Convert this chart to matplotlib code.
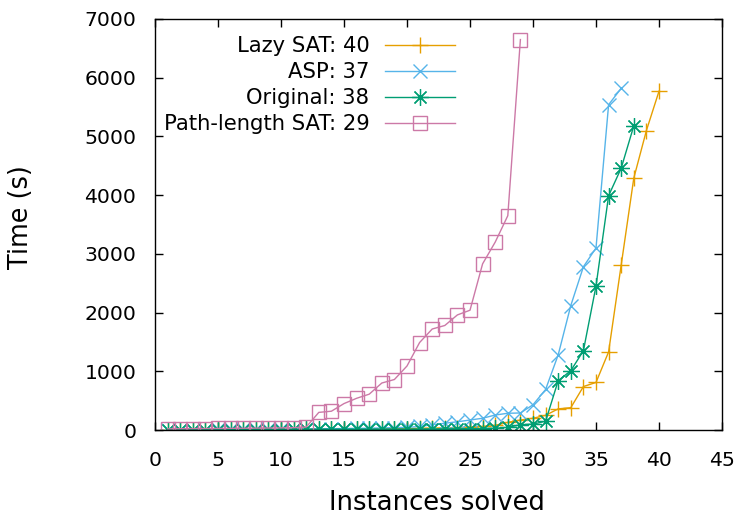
import matplotlib
matplotlib.use("Agg")
import matplotlib.pyplot as plt

plt.rcParams['font.family'] = ['DejaVu Sans']

lazy_sat = [5, 6, 7, 8, 9, 10, 10, 11, 12, 12,
            13, 14, 15, 16, 17, 18, 19, 20, 22, 24,
            26, 30, 35, 40, 50, 60, 80, 130, 170, 200,
            250, 360, 380, 740, 810, 1330, 2810, 4290, 5100, 5770]
asp = [5, 6, 7, 8, 9, 10, 11, 12, 13, 15,
       16, 18, 20, 22, 25, 28, 30, 35, 40, 45,
       60, 90, 115, 140, 170, 200, 255, 285, 290, 430,
       690, 1280, 2120, 2780, 3100, 5540, 5820]
original = [3, 4, 5, 5, 6, 6, 7, 7, 8, 8,
            9, 9, 10, 10, 11, 11, 12, 12, 13, 14,
            15, 16, 18, 20, 22, 25, 30, 45, 90, 100,
            150, 840, 1010, 1350, 2450, 3990, 4460, 5180]
path_length = [20, 22, 24, 25, 26, 28, 30, 32, 34, 36,
               40, 50, 300, 320, 450, 540, 610, 800, 860, 1090,
               1490, 1720, 1780, 1960, 2040, 2830, 3200, 3650, 6650]

labels = ["Lazy SAT: 40", "ASP: 37", "Original: 38", "Path-length SAT: 29"]
colors = ["#e69f00", "#56b4e9", "#009e73", "#cc79a7"]
markers = ["+", "x", (8, 2, 0), "s"]
series = [lazy_sat, asp, original, path_length]

fig = plt.figure(figsize=(7.4, 5.15), dpi=100)
ax = fig.add_axes([155/740, 1-430/515, (722-155)/740, (430-19)/515])

for vals, lab, col, mk in zip(series, labels, colors, markers):
    xs = list(range(1, len(vals) + 1))
    kw = dict(color=col, lw=1.0, marker=mk, markersize=11, markeredgewidth=1.0, label=lab)
    if mk == "s":
        kw.update(markerfacecolor="none", markersize=10.5)
    if mk == "x":
        kw.update(markersize=10.5)
    if mk == (8, 2, 0):
        kw.update(markersize=12, markeredgewidth=0.9)
    ax.plot(xs, vals, **kw)

ax.set_xlim(0, 45)
ax.set_ylim(0, 7000)
ax.set_xticks(range(0, 46, 5))
ax.set_yticks(range(0, 7001, 1000))
ax.tick_params(direction="in", length=6, width=1, top=True, right=True,
               labelsize=14.7, colors="black")
ax.tick_params(axis="x", pad=15)
ax.tick_params(axis="y", pad=13.5)
for s in ax.spines.values():
    s.set_linewidth(1.0)

ax.set_xlabel("Instances solved", fontsize=18.6)
ax.set_ylabel("Time (s)", fontsize=18.4)
ax.xaxis.set_label_coords(0.497, (430-509.5)/411)
ax.xaxis.label.set_va("baseline")
ax.yaxis.set_label_coords(-0.2355, 0.519)
ax.yaxis.label.set_va("center")

leg = ax.legend(loc="upper right", bbox_to_anchor=(0.529, 0.958), frameon=False,
                markerfirst=False, fontsize=15.2, handlelength=3.3,
                handletextpad=0.75, labelspacing=0.28, borderpad=0, borderaxespad=0)

fig.savefig("out.png", dpi=100)
